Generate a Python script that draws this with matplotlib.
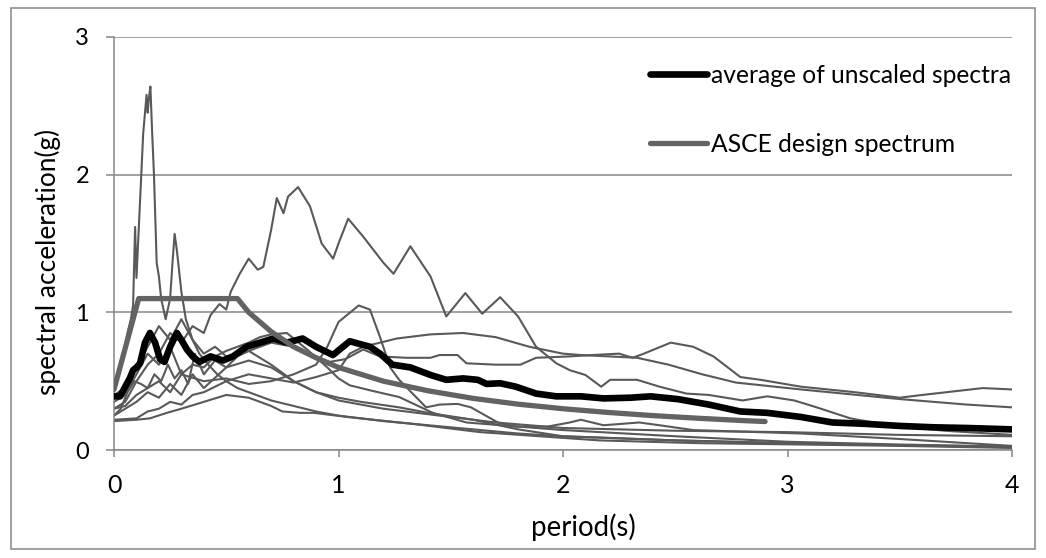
import matplotlib
matplotlib.use('Agg')
import matplotlib.pyplot as plt
from matplotlib.patches import Rectangle

plt.rcParams['font.family'] = ['Lato', 'DejaVu Sans']

# ---------------- data ----------------
# individual (unscaled) response spectra, thin grey lines
recA_T = [0, 0.03, 0.06, 0.075, 0.085, 0.094, 0.1, 0.11, 0.13, 0.145, 0.15, 0.155, 0.162, 0.17, 0.178,
          0.19, 0.2, 0.21, 0.23, 0.25, 0.26, 0.27, 0.28, 0.3, 0.32, 0.35, 0.38, 0.42, 0.46, 0.5, 0.55,
          0.6, 0.7, 0.8, 0.9, 1.0, 1.2, 1.4, 1.6, 1.8, 2.0, 2.5, 3.0, 3.5, 4.0]
recA_Sa = [0.45, 0.6, 0.85, 0.95, 1.05, 1.62, 1.25, 1.6, 2.3, 2.58, 2.45, 2.55, 2.64, 2.3, 2.0,
           1.36, 1.26, 1.1, 0.95, 1.1, 1.35, 1.57, 1.45, 1.15, 0.95, 0.8, 0.7, 0.62, 0.55, 0.5, 0.45,
           0.42, 0.36, 0.32, 0.28, 0.25, 0.21, 0.18, 0.15, 0.12, 0.1, 0.07, 0.05, 0.035, 0.025]

recB_T = [0, 0.05, 0.1, 0.15, 0.2, 0.25, 0.3, 0.35, 0.4, 0.43, 0.47, 0.5, 0.52, 0.56, 0.6, 0.64,
          0.665, 0.7, 0.725, 0.755, 0.775, 0.82, 0.873, 0.925, 0.976, 1.0, 1.043, 1.11, 1.2, 1.245,
          1.32, 1.41, 1.48, 1.565, 1.64, 1.72, 1.8, 1.88, 1.97, 2.03, 2.1, 2.17, 2.21, 2.33, 2.43,
          2.55, 2.65, 2.8, 2.91, 3.03, 3.13, 3.28, 3.45, 3.7, 4.0]
recB_Sa = [0.3, 0.35, 0.5, 0.62, 0.7, 0.85, 0.78, 0.9, 0.85, 0.98, 1.06, 1.02, 1.15, 1.28, 1.39, 1.31,
           1.33, 1.6, 1.83, 1.72, 1.84, 1.91, 1.77, 1.5, 1.39, 1.5, 1.68, 1.55, 1.36, 1.28,
           1.48, 1.26, 0.97, 1.14, 0.99, 1.11, 0.97, 0.75, 0.63, 0.58, 0.545, 0.46, 0.51, 0.51, 0.46,
           0.41, 0.4, 0.36, 0.39, 0.36, 0.31, 0.23, 0.18, 0.14, 0.11]

recC_T = [0, 0.05, 0.1, 0.15, 0.2, 0.25, 0.3, 0.35, 0.4, 0.45, 0.5, 0.6, 0.7, 0.8, 0.9, 0.96, 1.03,
          1.11, 1.185, 1.3, 1.41, 1.45, 1.53, 1.57, 1.7, 1.81, 1.88, 2.03, 2.13, 2.25, 2.31, 2.36,
          2.48, 2.58, 2.67, 2.79, 2.88, 3.06, 3.3, 3.5, 3.6, 3.87, 4.0]
recC_Sa = [0.4, 0.45, 0.6, 0.75, 0.9, 0.8, 0.95, 0.8, 0.7, 0.75, 0.68, 0.72, 0.78, 0.75, 0.68, 0.64, 0.66,
           0.73, 0.68, 0.67, 0.67, 0.69, 0.69, 0.63, 0.62, 0.62, 0.67, 0.68, 0.69, 0.7, 0.67, 0.7,
           0.78, 0.75, 0.68, 0.53, 0.51, 0.46, 0.42, 0.38, 0.4, 0.45, 0.44]

recD_T = [0, 0.1, 0.15, 0.2, 0.25, 0.3, 0.35, 0.4, 0.5, 0.6, 0.7, 0.8, 0.9, 1.0, 1.05, 1.11, 1.26,
          1.41, 1.555, 1.7, 1.85, 2.0, 2.08, 2.33, 2.47, 2.62, 2.77, 3.06, 3.5, 3.8, 4.0]
recD_Sa = [0.22, 0.23, 0.28, 0.3, 0.35, 0.33, 0.4, 0.42, 0.5, 0.55, 0.52, 0.49, 0.53, 0.58, 0.7, 0.75, 0.81,
           0.84, 0.85, 0.82, 0.75, 0.7, 0.69, 0.67, 0.62, 0.55, 0.49, 0.44, 0.37, 0.33, 0.31]

recE_T = [0, 0.05, 0.1, 0.15, 0.2, 0.25, 0.3, 0.4, 0.5, 0.6, 0.7, 0.8, 0.9, 0.95, 1.0, 1.09, 1.14,
          1.185, 1.23, 1.27, 1.39, 1.45, 1.53, 1.59, 1.71, 1.79, 1.93, 2.03, 2.08, 2.18, 2.34, 2.43,
          2.58, 3.06, 3.5, 4.0]
recE_Sa = [0.3, 0.32, 0.4, 0.45, 0.5, 0.42, 0.55, 0.5, 0.52, 0.48, 0.5, 0.55, 0.62, 0.75, 0.93, 1.05, 1.02,
           0.82, 0.6, 0.51, 0.31, 0.33, 0.335, 0.31, 0.2, 0.17, 0.17, 0.2, 0.22, 0.18, 0.2, 0.18,
           0.145, 0.12, 0.08, 0.03]

recF_T = [0, 0.05, 0.1, 0.15, 0.2, 0.25, 0.3, 0.35, 0.4, 0.45, 0.5, 0.55, 0.6, 0.65, 0.7, 0.77, 0.86,
          0.95, 1.0, 1.05, 1.15, 1.27, 1.42, 1.57, 2.0, 2.5, 3.0, 3.5, 4.0]
recF_Sa = [0.35, 0.4, 0.55, 0.7, 0.62, 0.75, 0.55, 0.62, 0.6, 0.68, 0.72, 0.75, 0.78, 0.82, 0.84, 0.85, 0.73,
           0.6, 0.52, 0.47, 0.43, 0.385, 0.27, 0.2, 0.145, 0.1, 0.06, 0.04, 0.025]

recG_T = [0, 0.05, 0.1, 0.15, 0.2, 0.25, 0.3, 0.35, 0.4, 0.5, 0.6, 0.7, 0.8, 0.9, 1.0, 1.1, 1.27,
          1.4, 1.6, 1.8, 2.0, 2.5, 3.0, 3.5, 4.0]
recG_Sa = [0.25, 0.3, 0.35, 0.42, 0.38, 0.48, 0.4, 0.55, 0.45, 0.6, 0.65, 0.6, 0.5, 0.42, 0.38, 0.35, 0.31,
           0.27, 0.22, 0.15, 0.1, 0.07, 0.05, 0.035, 0.02]

recH_T = [0, 0.1, 0.16, 0.235, 0.3, 0.4, 0.5, 0.6, 0.7, 0.75, 0.83, 0.89, 1.04, 1.33, 1.63, 1.72,
          2.16, 2.6, 3.06, 3.5, 4.0]
recH_Sa = [0.21, 0.22, 0.23, 0.27, 0.3, 0.35, 0.4, 0.38, 0.32, 0.28, 0.27, 0.27, 0.24, 0.19, 0.13, 0.12,
           0.07, 0.05, 0.04, 0.03, 0.015]

recI_T = [0, 0.03, 0.06, 0.09, 0.12, 0.15, 0.18, 0.21, 0.24, 0.27, 0.3, 0.33, 0.36, 0.4, 0.45, 0.5,
          0.55, 0.6, 0.7, 0.8, 0.9, 1.0, 1.2, 1.4, 1.7, 2.0, 2.5, 3.0, 3.5, 4.0]
recI_Sa = [0.25, 0.3, 0.42, 0.5, 0.48, 0.45, 0.55, 0.5, 0.62, 0.52, 0.58, 0.48, 0.7, 0.55, 0.65, 0.6,
           0.68, 0.72, 0.62, 0.5, 0.42, 0.36, 0.3, 0.26, 0.2, 0.16, 0.14, 0.13, 0.11, 0.1]

records = [(recA_T, recA_Sa), (recB_T, recB_Sa), (recC_T, recC_Sa), (recD_T, recD_Sa),
           (recE_T, recE_Sa), (recF_T, recF_Sa), (recG_T, recG_Sa), (recH_T, recH_Sa),
           (recI_T, recI_Sa)]

# average of unscaled spectra
avg_T = [0, 0.027, 0.05, 0.07, 0.085, 0.1, 0.116, 0.138, 0.16, 0.183, 0.205, 0.225, 0.25, 0.28, 0.3,
         0.325, 0.35, 0.38, 0.43, 0.485, 0.53, 0.59, 0.65, 0.71, 0.77, 0.84, 0.9, 0.975, 1.05, 1.14,
         1.185, 1.24, 1.32, 1.41, 1.48, 1.555, 1.62, 1.66, 1.72, 1.79, 1.88, 1.97, 2.08, 2.18, 2.3,
         2.39, 2.51, 2.65, 2.79, 2.91, 3.06, 3.2, 3.35, 3.5, 3.65, 3.8, 4.0]
avg_Sa = [0.39, 0.39, 0.46, 0.52, 0.58, 0.6, 0.63, 0.78, 0.85, 0.78, 0.66, 0.64, 0.75, 0.85, 0.8,
          0.73, 0.68, 0.64, 0.68, 0.65, 0.68, 0.75, 0.78, 0.81, 0.78, 0.81, 0.75, 0.69, 0.79, 0.75,
          0.7, 0.62, 0.6, 0.545, 0.51, 0.52, 0.51, 0.48, 0.485, 0.46, 0.41, 0.39, 0.39, 0.375, 0.38,
          0.39, 0.37, 0.33, 0.28, 0.27, 0.24, 0.2, 0.19, 0.175, 0.165, 0.16, 0.15]

# ASCE design spectrum
asce_T = [0, 0.11, 0.55, 0.6, 0.7, 0.8, 0.9, 1.0, 1.2, 1.4, 1.6, 1.8, 2.0, 2.2, 2.4, 2.6, 2.8, 2.9]
asce_Sa = [0.44, 1.1, 1.1, 1.0, 0.86, 0.75, 0.67, 0.6, 0.5, 0.43, 0.375, 0.333, 0.3, 0.273, 0.25,
           0.231, 0.214, 0.207]

labels = ['average of unscaled spectra', 'ASCE design spectrum']
x_ticks = [0, 1, 2, 3, 4]
y_ticks = [0, 1, 2, 3]
x_title = 'period(s)'
y_title = 'spectral acceleration(g)'

# ---------------- figure ----------------
GRID = '#868686'
THIN = '#595959'
DESIGN = '#636363'

fig = plt.figure(figsize=(10.46, 5.58), dpi=100)
fig.patch.set_facecolor('white')
renderer = fig.canvas.get_renderer()


def size_for(s, target_px, base=20.0):
    """font size (pt) that makes string s about target_px wide"""
    t = fig.text(0, 0, s, fontsize=base)
    w = t.get_window_extent(renderer=renderer).width
    t.remove()
    return base * target_px / w


leg_size = size_for(labels[0], 301)
xl_size = size_for(x_title, 105)
yl_size = size_for(y_title, 266)

fig.patches.append(Rectangle((11 / 1046, 1 - 549 / 558), (1035 - 11) / 1046, (549 - 8) / 558,
                             transform=fig.transFigure, fill=False, edgecolor=GRID, lw=1.1))

ax = fig.add_axes([0.109, 0.1935, 0.8585, 0.7402])

for T, Sa in records:
    ax.plot(T, Sa, color=THIN, lw=1.5, zorder=2)

h1, = ax.plot(avg_T, avg_Sa, color='black', lw=4.8, solid_capstyle='round',
              solid_joinstyle='round', zorder=3)
h2, = ax.plot(asce_T, asce_Sa, color=DESIGN, lw=3.8, solid_capstyle='round',
              solid_joinstyle='round', zorder=4)

ax.set_xlim(0, 4)
ax.set_ylim(0, 3)
ax.set_xticks(x_ticks)
ax.set_yticks(y_ticks)
ax.set_xticklabels([str(v) for v in x_ticks])
ax.set_yticklabels([str(v) for v in y_ticks])

ax.yaxis.grid(True, color=GRID, lw=1.1)
ax.set_axisbelow(True)
for s in ['top', 'right']:
    ax.spines[s].set_visible(False)
for s in ['left', 'bottom']:
    ax.spines[s].set_color(GRID)
    ax.spines[s].set_linewidth(1.1)

ax.tick_params(axis='x', direction='out', length=5, width=1.1, color=GRID, pad=12,
               labelsize=18, labelcolor='black')
ax.tick_params(axis='y', direction='out', length=6, width=1.1, color=GRID, pad=12,
               labelsize=17, labelcolor='black')

ax.set_xlabel(x_title, fontsize=xl_size)
ax.set_ylabel(y_title, fontsize=yl_size)
ax.xaxis.set_label_coords(0.523, -0.153)
ax.yaxis.set_label_coords(-0.059, 0.455)

em_px = leg_size * 100 / 72
leg = ax.legend([h1, h2], labels, loc='upper left', bbox_to_anchor=(650 / 1046, 0.886),
                bbox_transform=fig.transFigure, frameon=False, fontsize=leg_size,
                handlelength=57 / em_px, handletextpad=4 / em_px, labelspacing=1.87,
                borderpad=0, borderaxespad=0)

fig.savefig('out.png', dpi=100, facecolor='white')
